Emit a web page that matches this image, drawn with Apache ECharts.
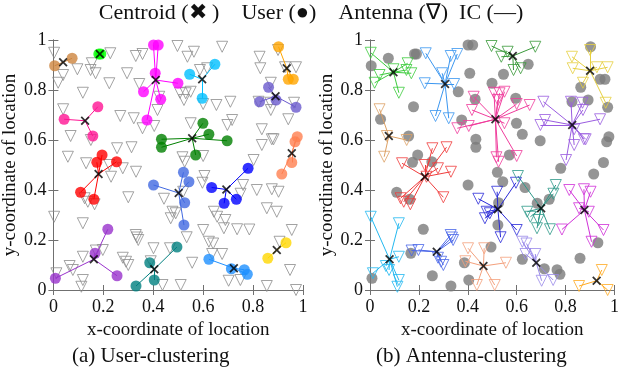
<!DOCTYPE html>
<html>
<head>
<meta charset="utf-8">
<script src="https://cdn.jsdelivr.net/npm/echarts@6/dist/echarts.min.js"></script>
<style>
  html, body { margin: 0; padding: 0; background: #fff; }
  #chart { width: 622px; height: 376px; }
</style>
</head>
<body>
<div id="chart"></div>
<script>
// ---- users, grouped by user-clustering (panel a) ----
const brownUsers   = [[0.005, 0.897], [0.075, 0.927]];
const limeUsers    = [[0.182, 0.944], [0.190, 0.944]];
const magentaUsers = [[0.401, 0.98], [0.42, 0.98], [0.408, 0.867], [0.361, 0.793], [0.43, 0.763], [0.375, 0.68], [0.499, 0.827]];
const pinkUsers    = [[0.178, 0.733], [0.043, 0.683], [0.158, 0.616]];
const greenUsers   = [[0.433, 0.603], [0.433, 0.571], [0.599, 0.667], [0.623, 0.623], [0.696, 0.597], [0.57, 0.54]];
const skyUsers     = [[0.647, 0.903], [0.546, 0.863], [0.596, 0.767]];
const orangeUsers  = [[0.902, 0.973], [0.941, 0.843], [0.961, 0.843]];
const slateUsers   = [[0.862, 0.811], [0.826, 0.753], [0.892, 0.76], [0.972, 0.731]];
const coralUsers   = [[0.977, 0.613], [0.968, 0.593], [0.955, 0.51], [0.915, 0.464]];
const redUsers     = [[0.195, 0.54], [0.174, 0.511], [0.253, 0.513], [0.109, 0.391], [0.162, 0.363]];
const royalUsers   = [[0.401, 0.42], [0.521, 0.471], [0.543, 0.433], [0.526, 0.349], [0.523, 0.26]];
const blueUsers    = [[0.78, 0.487], [0.634, 0.41], [0.684, 0.347], [0.733, 0.363]];
const dodgerUsers  = [[0.623, 0.123], [0.713, 0.085], [0.765, 0.081], [0.777, 0.063]];
const goldUsers    = [[0.932, 0.189], [0.859, 0.127]];
const tealUsers    = [[0.495, 0.172], [0.386, 0.109], [0.404, 0.04], [0.331, 0.016]];
const purpleUsers  = [[0.218, 0.243], [0.167, 0.147], [0.008, 0.047], [0.255, 0.057]];

const userGroups = [brownUsers, limeUsers, magentaUsers, pinkUsers, greenUsers, skyUsers, orangeUsers, slateUsers,
  coralUsers, redUsers, royalUsers, blueUsers, dodgerUsers, goldUsers, tealUsers, purpleUsers];
const userCentroids = [[0.039, 0.911], [0.186, 0.944], [0.41, 0.84], [0.127, 0.677], [0.556, 0.607], [0.596, 0.843],
  [0.935, 0.887], [0.89, 0.775], [0.955, 0.547], [0.181, 0.464], [0.502, 0.388], [0.693, 0.402], [0.723, 0.087],
  [0.895, 0.16], [0.404, 0.083], [0.162, 0.123]];
const userColors = ['#cd853f', '#00ff00', '#ff00ff', '#ff1493', '#008000', '#00bfff', '#ffa500', '#6a5acd',
  '#ff7f50', '#ff0000', '#4169e1', '#0000ff', '#1e90ff', '#ffd700', '#008080', '#9932cc'];

// ---- antennas, grouped by antenna-clustering (panel b) ----
const greenAnt    = [[0.003, 0.949], [0.019, 0.829], [0.039, 0.86], [0.096, 0.883], [0.118, 0.789], [0.154, 0.907], [0.149, 0.88], [0.169, 0.867]];
const lightBlueAnt = [[0.228, 0.947], [0.33, 0.936], [0.357, 0.944], [0.295, 0.867], [0.224, 0.827], [0.344, 0.824], [0.268, 0.696], [0.322, 0.687]];
const tanAnt      = [[0.039, 0.723], [0.058, 0.533], [0.069, 0.616], [0.15, 0.6]];
const redAnt      = [[0.131, 0.507], [0.224, 0.50], [0.231, 0.453], [0.278, 0.487], [0.331, 0.473], [0.125, 0.367], [0.138, 0.353], [0.165, 0.343], [0.30, 0.371], [0.255, 0.567], [0.313, 0.571]];
const cyanAnt     = [[0.003, 0.293], [0.118, 0.267], [0.012, 0.067], [0.065, 0.096], [0.078, 0.08], [0.118, 0.133], [0.118, 0.04], [0.112, 0.013]];
const lowBlueAnt  = [[0.17, 0.158], [0.198, 0.16], [0.33, 0.22], [0.335, 0.21], [0.34, 0.2], [0.278, 0.129], [0.291, 0.113], [0.30, 0.10]];
const salmonAnt   = [[0.401, 0.167], [0.467, 0.167], [0.556, 0.109], [0.437, 0.02], [0.51, 0.02], [0.39, 0.115]];
const darkGreenAnt = [[0.497, 0.976], [0.537, 0.933], [0.563, 0.953], [0.676, 0.973], [0.587, 0.88], [0.616, 0.887]];
const yellowAnt   = [[0.826, 0.933], [0.829, 0.887], [0.90, 0.96], [0.928, 0.891], [0.972, 0.891], [0.871, 0.829], [0.964, 0.749]];
const pinkAnt     = [[0.424, 0.773], [0.417, 0.72], [0.357, 0.647], [0.404, 0.656], [0.507, 0.789], [0.53, 0.787], [0.523, 0.76], [0.55, 0.793], [0.60, 0.744], [0.653, 0.74], [0.55, 0.667], [0.517, 0.531], [0.526, 0.513], [0.60, 0.536]];
const purpleAnt   = [[0.709, 0.753], [0.822, 0.753], [0.869, 0.749], [0.871, 0.72], [0.716, 0.68], [0.697, 0.66], [0.941, 0.683], [0.835, 0.643], [0.875, 0.603], [0.882, 0.603], [0.835, 0.58], [0.802, 0.52]];
const midBlueAnt  = [[0.443, 0.365], [0.52, 0.393], [0.597, 0.429], [0.477, 0.313], [0.49, 0.307], [0.47, 0.287], [0.534, 0.211], [0.60, 0.24]];
const tealAnt     = [[0.605, 0.456], [0.76, 0.42], [0.75, 0.385], [0.643, 0.313], [0.656, 0.293], [0.689, 0.28], [0.683, 0.247], [0.736, 0.243]];
const magentaAnt  = [[0.815, 0.40], [0.875, 0.403], [0.902, 0.393], [0.855, 0.327], [0.895, 0.313], [0.785, 0.242], [0.955, 0.24], [0.906, 0.193]];
const lavenderAnt = [[0.623, 0.193], [0.64, 0.186], [0.636, 0.144], [0.676, 0.144], [0.702, 0.037], [0.749, 0.04]];
const orangeAnt   = [[0.855, 0.016], [0.948, 0.08], [0.972, 0.0]];

const antGroups = [greenAnt, lightBlueAnt, tanAnt, redAnt, cyanAnt, lowBlueAnt, salmonAnt, darkGreenAnt,
  yellowAnt, pinkAnt, purpleAnt, midBlueAnt, tealAnt, magentaAnt, lavenderAnt, orangeAnt];
const antCentroids = [[0.096, 0.871], [0.307, 0.824], [0.077, 0.616], [0.224, 0.453], [0.08, 0.123], [0.273, 0.153],
  [0.464, 0.096], [0.584, 0.936], [0.90, 0.877], [0.513, 0.683], [0.827, 0.66], [0.523, 0.323], [0.70, 0.327],
  [0.877, 0.32], [0.68, 0.109], [0.927, 0.037]];
const antColors = ['#3ccc3c', '#3a96f0', '#dca064', '#f03c3c', '#22b8f0', '#4a66e8', '#f4a07c', '#3a9a3a',
  '#e6d040', '#f03c9c', '#9a5ce0', '#2a2ad8', '#2e9a8a', '#d030d8', '#9a8aea', '#ffaa22'];

const FONT = '"Liberation Serif", "Times New Roman", serif';
// thin "x" used for centroids
const X_MARK = 'path://M1.4,0L5,3.6L8.6,0L10,1.4L6.4,5L10,8.6L8.6,10L5,6.4L1.4,10L0,8.6L3.6,5L0,1.4Z';

const allUsers = userGroups.flat();
const allAnts = antGroups.flat();

function linkData(groups, centroids, colors) {
  const out = [];
  groups.forEach((pts, i) => {
    pts.forEach(p => out.push({ coords: [centroids[i], p], lineStyle: { color: colors[i] } }));
  });
  return out;
}

function axisPair(gi, name) {
  const base = {
    gridIndex: gi, type: 'value', min: 0, max: 1, interval: 0.2,
    axisLine: { lineStyle: { color: '#707070', width: 1 } },
    axisTick: { inside: true, length: 5, lineStyle: { color: '#707070' } },
    splitLine: { show: false }
  };
  return {
    x: [
      Object.assign({}, base, {
        position: 'bottom', name: name[0], nameLocation: 'middle', nameGap: 30,
        nameTextStyle: { fontFamily: FONT, fontSize: 19, color: '#111' },
        axisLabel: { fontFamily: FONT, fontSize: 18, color: '#111', margin: 8 }
      }),
      Object.assign({}, base, { position: 'top', axisLabel: { show: false } })
    ],
    y: [
      Object.assign({}, base, {
        position: 'left', name: name[1], nameLocation: 'middle', nameGap: 29,
        nameTextStyle: { fontFamily: FONT, fontSize: 19, color: '#111' },
        axisLabel: { fontFamily: FONT, fontSize: 18, color: '#111', margin: 7 }
      }),
      Object.assign({}, base, { position: 'right', axisLabel: { show: false } })
    ]
  };
}

const names = ['x-coordinate of location', 'y-coordinate of location'];
const a0 = axisPair(0, names);
const a1 = axisPair(1, names);

const chart = echarts.init(document.getElementById('chart'), null, { renderer: 'canvas' });

const series = [];

// panel (a): antennas in gray, users coloured by cluster
series.push({
  type: 'scatter', xAxisIndex: 0, yAxisIndex: 0, z: 1, silent: true,
  symbol: 'triangle', symbolRotate: 180, symbolSize: 11,
  itemStyle: { color: 'rgba(255,255,255,0)', borderColor: '#8c8c8c', borderWidth: 1 },
  data: allAnts
});
series.push({
  type: 'lines', coordinateSystem: 'cartesian2d', xAxisIndex: 0, yAxisIndex: 0, z: 2, silent: true,
  lineStyle: { width: 1, opacity: 1 },
  data: linkData(userGroups, userCentroids, userColors)
});
userGroups.forEach((pts, i) => {
  series.push({
    type: 'scatter', xAxisIndex: 0, yAxisIndex: 0, z: 3, silent: true,
    symbol: 'circle', symbolSize: 11,
    itemStyle: { color: userColors[i] },
    data: pts
  });
});
series.push({
  type: 'scatter', xAxisIndex: 0, yAxisIndex: 0, z: 4, silent: true,
  symbol: X_MARK, symbolSize: 9, itemStyle: { color: '#000' },
  data: userCentroids
});

// panel (b): users in gray, antennas coloured by cluster
series.push({
  type: 'scatter', xAxisIndex: 2, yAxisIndex: 2, z: 1, silent: true,
  symbol: 'circle', symbolSize: 11,
  itemStyle: { color: '#7a7a7a' },
  data: allUsers
});
series.push({
  type: 'lines', coordinateSystem: 'cartesian2d', xAxisIndex: 2, yAxisIndex: 2, z: 2, silent: true,
  lineStyle: { width: 1, opacity: 1 },
  data: linkData(antGroups, antCentroids, antColors)
});
antGroups.forEach((pts, i) => {
  series.push({
    type: 'scatter', xAxisIndex: 2, yAxisIndex: 2, z: 3, silent: true,
    symbol: 'triangle', symbolRotate: 180, symbolSize: 11,
    itemStyle: { color: 'rgba(255,255,255,0)', borderColor: antColors[i], borderWidth: 1 },
    data: pts
  });
});
series.push({
  type: 'scatter', xAxisIndex: 2, yAxisIndex: 2, z: 4, silent: true,
  symbol: X_MARK, symbolSize: 9, itemStyle: { color: '#000' },
  data: antCentroids
});

chart.setOption({
  animation: false,
  backgroundColor: '#fff',
  grid: [
    { left: 52, top: 40, width: 251, height: 250 },
    { left: 370, top: 40, width: 250, height: 250 }
  ],
  xAxis: [...a0.x, ...a1.x],
  yAxis: [...a0.y, ...a1.y],
  graphic: [
    {
      type: 'text', left: 'center', top: 2,
      style: { text: 'Centroid (\u2716 )    User (\u25CF)    Antenna (\u2207)  IC (\u2014)', font: '22px ' + FONT, fill: '#111' }
    },
    { type: 'text', left: 72, top: 346, style: { text: '(a) User-clustering', font: '21px ' + FONT, fill: '#111' } },
    { type: 'text', left: 376, top: 346, style: { text: '(b) Antenna-clustering', font: '21px ' + FONT, fill: '#111' } }
  ],
  series: series
});
</script>
</body>
</html>
